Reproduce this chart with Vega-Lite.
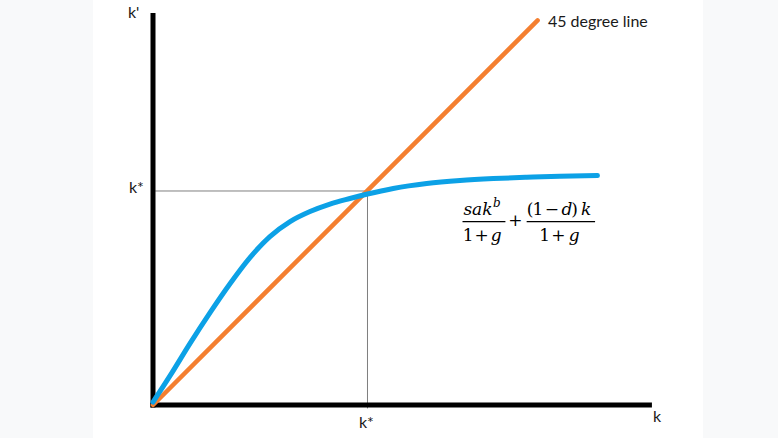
{
  "$schema": "https://vega.github.io/schema/vega-lite/v6.json",
  "width": 778,
  "height": 438,
  "autosize": "none",
  "padding": 0,
  "background": "#f8f9fa",
  "config": {"view": {"stroke": null}},
  "datasets": {
    "panel": [{"x": -0.280, "x2": 2.564, "y": -0.1542, "y2": 1.8925}],
    "guides": [
      {"x": 0.01, "x2": 1.0, "y": 1.0, "y2": 1.0},
      {"x": 1.0, "x2": 1.0, "y": 1.0, "y2": -0.016}
    ],
    "axes": [
      {"x": -0.012, "x2": 2.326, "y": 0.0, "y2": 0.0},
      {"x": 0.0, "x2": 0.0, "y": -0.012, "y2": 1.832}
    ],
    "diag": [{"x": 0.0, "y": 0.0}, {"x": 1.793, "y": 1.797}],
    "curve": [
      {"x": 0.0, "y": 0.014},
      {"x": 0.079, "y": 0.136},
      {"x": 0.172, "y": 0.287},
      {"x": 0.266, "y": 0.432},
      {"x": 0.359, "y": 0.567},
      {"x": 0.452, "y": 0.689},
      {"x": 0.545, "y": 0.787},
      {"x": 0.639, "y": 0.857},
      {"x": 0.732, "y": 0.904},
      {"x": 0.825, "y": 0.939},
      {"x": 0.918, "y": 0.965},
      {"x": 1.0, "y": 0.986},
      {"x": 1.12, "y": 1.012},
      {"x": 1.276, "y": 1.035},
      {"x": 1.431, "y": 1.049},
      {"x": 1.587, "y": 1.058},
      {"x": 1.742, "y": 1.064},
      {"x": 1.897, "y": 1.069},
      {"x": 2.072, "y": 1.072}
    ],
    "labels": [
      {"x": -0.117, "y": 1.808, "t": "k'"},
      {"x": -0.112, "y": 0.991, "t": "k*"},
      {"x": 0.96, "y": -0.107, "t": "k*"},
      {"x": 2.331, "y": -0.079, "t": "k"},
      {"x": 1.841, "y": 1.766, "t": "45 degree line"}
    ],
    "bars": [
      {"x": 1.443, "x2": 1.643, "y": 0.857, "y2": 0.857},
      {"x": 1.742, "x2": 2.061, "y": 0.857, "y2": 0.857}
    ],
    "upright": [
      {"x": 1.758, "y": 0.888, "t": "("},
      {"x": 1.795, "y": 0.888, "t": "1"},
      {"x": 1.86, "y": 0.888, "t": "−"},
      {"x": 1.965, "y": 0.888, "t": ")"},
      {"x": 1.469, "y": 0.766, "t": "1"},
      {"x": 1.532, "y": 0.766, "t": "+"},
      {"x": 1.826, "y": 0.766, "t": "1"},
      {"x": 1.89, "y": 0.766, "t": "+"},
      {"x": 1.69, "y": 0.838, "t": "+"}
    ],
    "italicCenter": [
      {"x": 1.93, "y": 0.888, "t": "d"},
      {"x": 2.019, "y": 0.888, "t": "k"},
      {"x": 1.6, "y": 0.766, "t": "g"},
      {"x": 1.964, "y": 0.766, "t": "g"}
    ],
    "italicLeft": [{"x": 1.447, "y": 0.888, "t": "sak"}],
    "sup": [{"x": 1.585, "y": 0.927, "t": "b"}]
  },
  "encoding": {
    "x": {"field": "x", "type": "quantitative", "axis": null, "scale": {"domain": [-0.7133, 2.9138], "nice": false, "zero": false}},
    "y": {"field": "y", "type": "quantitative", "axis": null, "scale": {"domain": [-0.1542, 1.8925], "nice": false, "zero": false}}
  },
  "layer": [
    {"data": {"name": "panel"}, "mark": {"type": "rect", "fill": "#ffffff"}, "encoding": {"x2": {"field": "x2"}, "y2": {"field": "y2"}}},
    {"data": {"name": "guides"}, "mark": {"type": "rule", "stroke": "#7f7f7f", "strokeWidth": 1}, "encoding": {"x2": {"field": "x2"}, "y2": {"field": "y2"}}},
    {"data": {"name": "axes"}, "mark": {"type": "rule", "stroke": "#000000", "strokeWidth": 5, "strokeCap": "butt"}, "encoding": {"x2": {"field": "x2"}, "y2": {"field": "y2"}}},
    {"data": {"name": "diag"}, "mark": {"type": "line", "stroke": "#f47f30", "strokeWidth": 4.5, "strokeCap": "round"}, "encoding": {}},
    {"data": {"name": "curve"}, "mark": {"type": "line", "stroke": "#0ca1e6", "strokeWidth": 5, "strokeCap": "round", "interpolate": "monotone"}, "encoding": {}},
    {"data": {"name": "labels"}, "mark": {"type": "text", "align": "left", "baseline": "alphabetic", "font": "Lato", "fontSize": 16, "fill": "#1a1a1a"}, "encoding": {"text": {"field": "t"}}},
    {"data": {"name": "bars"}, "mark": {"type": "rule", "stroke": "#000000", "strokeWidth": 1.3}, "encoding": {"x2": {"field": "x2"}, "y2": {"field": "y2"}}},
    {"data": {"name": "upright"}, "mark": {"type": "text", "align": "center", "baseline": "alphabetic", "font": "DejaVu Serif", "fontSize": 17, "fill": "#000000"}, "encoding": {"text": {"field": "t"}}},
    {"data": {"name": "italicCenter"}, "mark": {"type": "text", "align": "center", "baseline": "alphabetic", "font": "DejaVu Serif", "fontStyle": "italic", "fontSize": 17, "fill": "#000000"}, "encoding": {"text": {"field": "t"}}},
    {"data": {"name": "italicLeft"}, "mark": {"type": "text", "align": "left", "baseline": "alphabetic", "font": "DejaVu Serif", "fontStyle": "italic", "fontSize": 17, "fill": "#000000"}, "encoding": {"text": {"field": "t"}}},
    {"data": {"name": "sup"}, "mark": {"type": "text", "align": "left", "baseline": "alphabetic", "font": "DejaVu Serif", "fontStyle": "italic", "fontSize": 12, "fill": "#000000"}, "encoding": {"text": {"field": "t"}}}
  ]
}
